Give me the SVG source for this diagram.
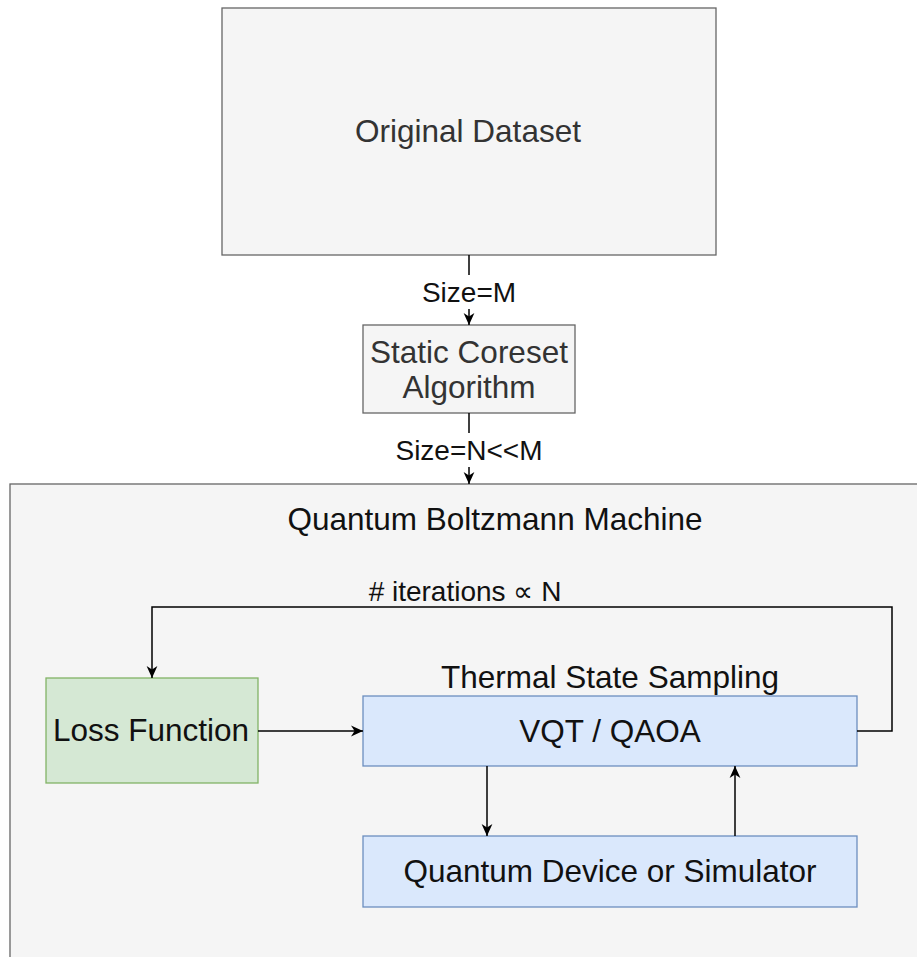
<svg xmlns="http://www.w3.org/2000/svg" width="917" height="957" viewBox="0 0 917 957">
<style>
text{font-family:"Liberation Sans",Arial,sans-serif;text-anchor:middle;dominant-baseline:central}
.gray{fill:#f5f5f5;stroke:#666;stroke-width:1.3}
.blue{fill:#dae8fc;stroke:#6c8ebf;stroke-width:1.3}
.green{fill:#d5e8d4;stroke:#82b366;stroke-width:1.3}
.edge{fill:none;stroke:#000;stroke-width:1.5}
.t26{font-size:31.5px}
.t24{font-size:31.5px}
.t22{font-size:28px}
</style>
<defs>
<marker id="arr" viewBox="0 0 10 10" refX="10" refY="5" markerWidth="12" markerHeight="12" markerUnits="userSpaceOnUse" orient="auto">
<path d="M0,0.5 L10,5 L0,9.5 L3,5 Z" fill="#000"/>
</marker>
</defs>
<rect width="917" height="957" fill="#fff"/>
<g id="qbm">
<rect class="gray" x="10" y="484" width="920" height="490"/>
<text class="t24" x="495" y="519" fill="#111">Quantum Boltzmann Machine</text>
</g>
<g id="original-dataset">
<rect class="gray" x="222" y="8" width="494" height="247"/>
<text class="t26" x="468" y="131" fill="#333">Original Dataset</text>
</g>
<g id="static-coreset">
<rect class="gray" x="363" y="325" width="212" height="88"/>
<text class="t26" x="469" y="352" fill="#333">Static Coreset</text>
<text class="t26" x="469" y="387" fill="#333">Algorithm</text>
</g>
<g id="loss-function">
<rect class="green" x="46" y="678" width="212" height="105"/>
<text class="t26" x="151" y="730" fill="#111">Loss Function</text>
</g>
<g id="vqt">
<rect class="blue" x="363" y="696" width="494" height="70"/>
<text class="t26" x="610" y="731" fill="#111">VQT / QAOA</text>
<text class="t26" x="610" y="677" fill="#111">Thermal State Sampling</text>
</g>
<g id="quantum-device">
<rect class="blue" x="363" y="836" width="494" height="71"/>
<text class="t26" x="610" y="871" fill="#111">Quantum Device or Simulator</text>
</g>
<g id="connectors">
<line class="edge" x1="469" y1="255" x2="469" y2="275"/>
<line class="edge" x1="469" y1="309" x2="469" y2="325" marker-end="url(#arr)"/>
<text class="t22" x="469" y="292" fill="#111">Size=M</text>
<line class="edge" x1="469" y1="413" x2="469" y2="433"/>
<line class="edge" x1="469" y1="467" x2="469" y2="484" marker-end="url(#arr)"/>
<text class="t22" x="469" y="450" fill="#111">Size=N&lt;&lt;M</text>
<path class="edge" d="M857,731 H892 V607 H152 V678" marker-end="url(#arr)"/>
<text class="t22" x="465" y="591" fill="#111"># iterations ∝ N</text>
<line class="edge" x1="258" y1="731" x2="363" y2="731" marker-end="url(#arr)"/>
<line class="edge" x1="487" y1="766" x2="487" y2="836" marker-end="url(#arr)"/>
<line class="edge" x1="735" y1="836" x2="735" y2="766" marker-end="url(#arr)"/>
</g>
</svg>
